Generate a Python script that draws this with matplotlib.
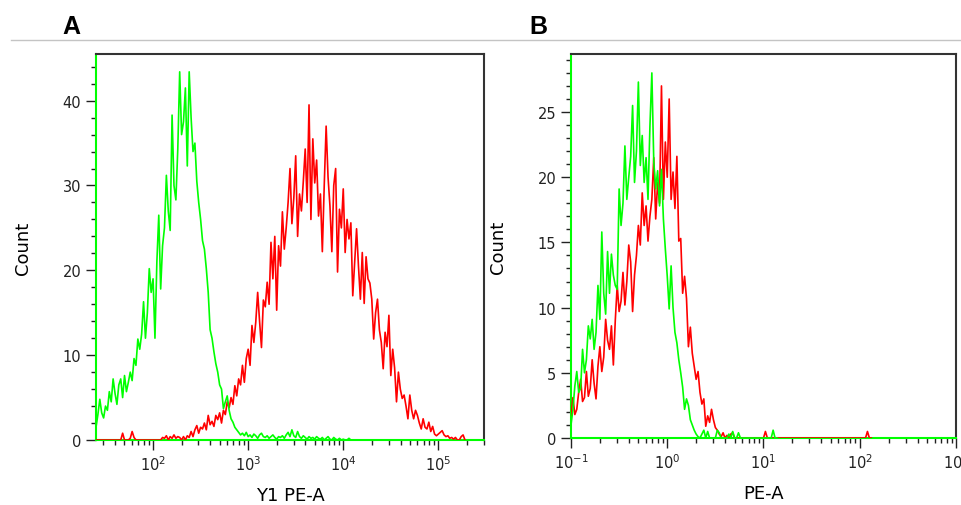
import numpy as np
import matplotlib
matplotlib.use("Agg")
import matplotlib.pyplot as plt
from matplotlib.lines import Line2D
from matplotlib.ticker import LogLocator, MultipleLocator, NullFormatter

plt.rcParams['font.family'] = ['DejaVu Sans']

# histogram channels: counts per bin, bins spaced 0.02 decades apart
step = 0.02

# panel A (Y1 PE-A), bins start at 10^1.4
green_a_start = 1.4
green_a = [1.5, 3.0, 4.8, 3.2, 2.6, 4.0, 3.5, 5.7, 4.5, 7.2,
           5.5, 4.2, 6.5, 7.2, 5.0, 7.6, 5.7, 6.8, 8.0, 7.0,
           9.6, 8.8, 11.9, 10.7, 12.5, 16.3, 12.0, 15.0, 20.2, 17.4,
           19.0, 12.0, 21.0, 26.5, 17.8, 22.9, 25.0, 31.2, 27.0, 24.7,
           38.3, 30.0, 28.3, 34.3, 43.4, 36.0, 37.5, 41.5, 32.3, 43.4,
           38.0, 34.0, 35.0, 30.5, 28.0, 26.0, 23.5, 22.5, 20.2, 17.4,
           13.0, 12.0, 10.4, 9.0, 8.0, 6.5, 6.0, 3.7, 4.5, 5.2,
           3.5, 2.5, 2.1, 1.5, 1.2, 0.9, 0.6,
           0.8, 0.5, 0.9, 0.4, 0.6, 0.3, 0.7, 0.5, 0.2, 0.6,
           0.8, 0.4, 0.3, 0.5, 0.2, 0.4, 0.6, 0.3, 0.1, 0.4,
           0.3, 0.5, 0.2, 0.6, 0.9, 0.4, 1.2, 0.5, 0.3, 1.0,
           0.4, 0.2, 0.5, 0.3, 0.1, 0.4, 0.2, 0.3, 0.1, 0.4,
           0.2, 0.1, 0.3, 0.0, 0.2, 0.4, 0.1, 0.0, 0.3, 0.1,
           0.0, 0.2, 0.0, 0.1, 0.0, 0.0, 0.2, 0.0]

red_a_start = 1.4
red_a = [0, 0, 0, 0, 0, 0, 0, 0, 0, 0, 0, 0, 0,
         0, 0.8, 0, 0, 0, 0.2, 1.0, 0.3, 0, 0,
         0, 0, 0, 0, 0, 0, 0, 0, 0, 0,
         0, 0, 0.3, 0.2, 0.5, 0, 0.4, 0.2, 0.6, 0.2, 0.4,
         0.3, 0, 0.4, 0, 0.5, 0.3, 1.0, 0.4, 1.2, 1.7,
         0.8, 1.5, 1.3, 2.0, 1.2, 2.9, 1.8, 2.2, 1.6, 2.9,
         2.4, 3.2, 2.0, 3.5, 3.0, 4.5, 3.8, 5.0, 4.2, 6.4,
         5.2, 7.2, 6.5, 8.8, 6.8, 9.6, 10.7, 8.8, 13.5, 11.5,
         13.9, 17.4, 14.0, 10.9, 16.5, 15.7, 18.6, 16.0, 23.3, 19.0,
         24.0, 15.3, 22.9, 20.5, 26.9, 22.5, 25.0, 28.0, 32.0, 25.5,
         28.5, 33.5, 24.0, 29.0, 27.0, 30.5, 34.3, 28.0, 39.5, 26.0,
         35.5, 30.3, 33.0, 26.4, 29.0, 22.2, 30.0, 37.0, 31.0, 27.6,
         22.2, 30.0, 32.0, 19.8, 27.2, 25.0, 29.6, 22.1, 26.0, 23.7,
         25.6, 17.0, 21.0, 24.9, 20.5, 16.6, 22.1, 16.1, 21.6, 19.0,
         18.5, 16.6, 11.9, 15.0, 16.6, 13.0, 11.5, 8.4, 12.7, 11.0,
         14.7, 7.6, 10.7, 8.5, 4.5, 8.0, 6.0, 4.9, 5.3, 4.0,
         2.5, 5.3, 3.5, 2.5, 3.5, 2.9, 2.0, 1.3, 2.5, 1.5,
         1.3, 2.1, 1.0, 1.6, 0.7, 0.5, 0.7, 0.9, 1.1, 0.6,
         0.4, 0.5, 0.2, 0.3, 0.1, 0.3, 0, 0, 0.4, 0.6, 0]

# panel B (PE-A), bins start at 10^-1
green_b_start = -1.0
green_b = [1.0, 2.2, 4.0, 5.1, 3.5, 3.8, 6.8, 5.0, 6.0, 8.6,
           7.6, 9.1, 6.8, 8.1, 11.7, 9.1, 15.8, 11.1, 9.5, 14.3,
           11.1, 14.1, 12.5, 11.7, 11.4, 19.1, 16.3, 18.0, 22.4, 18.3,
           20.0, 21.6, 25.5, 19.6, 22.0, 27.3, 20.9, 23.2, 19.6, 21.5,
           18.3, 23.9, 28.0, 21.2, 19.1, 20.5, 17.8, 20.6, 16.8, 14.5,
           12.4, 9.9, 13.2, 10.0, 8.1, 7.3, 6.0, 5.0, 3.9, 2.2,
           3.0, 2.5, 1.4, 1.0, 0.6, 0.3, 0.1, 0, 0.3, 0.6,
           0, 0.5, 0, 0, 0, 0, 0.6, 0.4, 0, 0,
           0, 0, 0.3, 0, 0.5, 0, 0, 0.4, 0, 0,
           0, 0, 0, 0, 0, 0, 0, 0, 0, 0,
           0, 0, 0, 0, 0, 0.6, 0, 0]

red_b_start = -1.0
red_b = [1.7, 3.1, 1.8, 2.2, 3.5, 4.5, 2.8, 3.1, 5.1, 3.2,
         3.8, 6.0, 4.2, 3.0, 5.5, 7.0, 5.1, 6.2, 9.1, 7.5,
         6.8, 8.6, 5.6, 9.0, 11.7, 9.7, 10.5, 12.7, 10.2, 12.0,
         14.8, 13.5, 9.7, 12.5, 14.0, 16.3, 14.8, 18.8, 16.3, 17.8,
         15.1, 17.0, 18.3, 21.5, 16.8, 19.6, 18.0, 27.0, 18.3, 22.7,
         20.0, 26.0, 18.3, 20.4, 17.6, 21.6, 15.1, 15.3, 11.1, 12.4,
         10.7, 7.0, 8.5, 6.5, 5.5, 4.5, 5.1, 3.5, 2.6, 3.0,
         0.9, 1.7, 1.2, 2.2, 1.4, 0.8, 0.6, 0.3, 0.1, 0.4,
         0, 0.2, 0, 0.3, 0.4, 0, 0, 0, 0, 0,
         0, 0, 0, 0, 0, 0, 0, 0, 0, 0,
         0, 0.5, 0, 0, 0, 0, 0, 0, 0, 0,
         0, 0, 0, 0, 0, 0, 0, 0, 0, 0,
         0, 0, 0, 0, 0, 0, 0, 0, 0, 0,
         0, 0, 0, 0, 0, 0, 0, 0, 0, 0,
         0, 0, 0, 0, 0, 0, 0, 0, 0, 0,
         0, 0, 0, 0, 0.5, 0, 0]

ticks_a = [1e2, 1e3, 1e4, 1e5]
ticklabels_a = ['$10^{2}$', '$10^{3}$', '$10^{4}$', '$10^{5}$']
ticks_b = [1e-1, 1e0, 1e1, 1e2, 1e3]
ticklabels_b = ['$10^{-1}$', '$10^{0}$', '$10^{1}$', '$10^{2}$', '$10^{3}$']

GREEN = '#00ff00'
RED = '#ff0000'


def bins(start, counts):
    return 10 ** (start + step * np.arange(len(counts)))


def style(ax, xlim, ylim, yminor):
    ax.set_xscale('log')
    ax.set_xlim(*xlim)
    ax.set_ylim(*ylim)
    ax.xaxis.set_minor_locator(LogLocator(base=10, subs=np.arange(2, 10), numticks=20))
    ax.xaxis.set_minor_formatter(NullFormatter())
    ax.yaxis.set_minor_locator(MultipleLocator(yminor))
    ax.tick_params(which='major', direction='out', length=7, width=1,
                   color='#222222', labelsize=10.5, labelcolor='#222222')
    ax.tick_params(which='minor', direction='out', length=3.5, width=1,
                   color='#222222')
    for s in ['top', 'right']:
        ax.spines[s].set_color('#333333')
        ax.spines[s].set_linewidth(1.5)
    for s in ['left', 'bottom']:
        ax.spines[s].set_color(GREEN)
        ax.spines[s].set_linewidth(1.5)
    ax.set_ylabel('Count', fontsize=13, labelpad=22)


fig = plt.figure(figsize=(9.62, 5.06), dpi=100)

axA = fig.add_axes([96 / 962, 65 / 506, 388 / 962, 386 / 506])
axA.plot(bins(red_a_start, red_a), red_a, color=RED, lw=1.2, zorder=3)
axA.plot(bins(green_a_start, green_a), green_a, color=GREEN, lw=1.2, zorder=4)
style(axA, (10 ** 1.4, 10 ** 5.48), (0, 45.5), 2)
axA.set_yticks([0, 10, 20, 30, 40])
axA.set_xticks(ticks_a)
axA.set_xticklabels(ticklabels_a)
axA.set_xlabel('Y1 PE-A', fontsize=13, labelpad=9)

axB = fig.add_axes([571 / 962, 67 / 506, 385 / 962, 384 / 506])
axB.plot(bins(red_b_start, red_b), red_b, color=RED, lw=1.2, zorder=3)
axB.plot(bins(green_b_start, green_b), green_b, color=GREEN, lw=1.2, zorder=4)
style(axB, (1e-1, 1e3), (0, 29.45), 1)
axB.set_yticks([0, 5, 10, 15, 20, 25])
axB.set_xticks(ticks_b)
axB.set_xticklabels(ticklabels_b)
axB.set_xlabel('PE-A', fontsize=13, labelpad=9)

fig.add_artist(Line2D([11 / 962, 1], [1 - 41 / 506] * 2, color='#c4c4c4', lw=1))
fig.text(62 / 962, 1 - 27 / 506, 'A', fontsize=18, fontweight='bold',
         family='Liberation Sans', va='center')
fig.text(529 / 962, 1 - 27 / 506, 'B', fontsize=18, fontweight='bold',
         family='Liberation Sans', va='center')

fig.savefig('out.png', dpi=100)
